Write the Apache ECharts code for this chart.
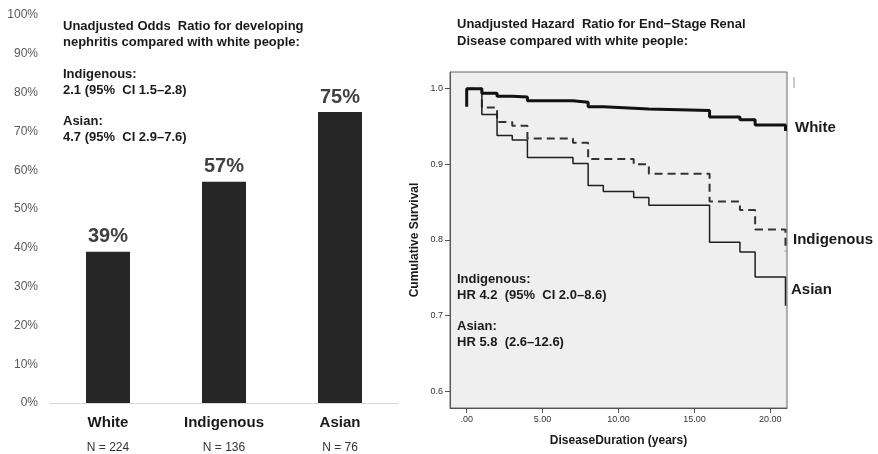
<!DOCTYPE html>
<html>
<head>
<meta charset="utf-8">
<script src="https://cdn.jsdelivr.net/npm/echarts@6/dist/echarts.min.js"></script>
<style>
  html, body { margin: 0; padding: 0; background: #fff; }
  #chart { width: 878px; height: 454px; }
</style>
</head>
<body>
<div id="chart"></div>
<script>
// left panel: nephritis rate by group
const groups = ['White', 'Indigenous', 'Asian']
const groupN = ['N = 224', 'N = 136', 'N = 76']
const nephritisPct = [39, 57, 75]

// right panel: Kaplan-Meier survival steps (years, cumulative survival)
const whiteTime = [0, 0, 1, 2, 3, 4, 7, 8, 9, 11, 12, 16, 18, 19, 21]
const whiteSurv = [0.976, 1.0, 0.994, 0.990, 0.989, 0.984, 0.982, 0.976, 0.974, 0.973, 0.971, 0.9625, 0.959, 0.952, 0.944]
const indigTime = [0, 1, 2, 3, 4, 7, 8, 11, 12, 16, 18, 19, 21]
const indigSurv = [1.0, 0.975, 0.956, 0.951, 0.934, 0.9285, 0.907, 0.900, 0.8875, 0.851, 0.8395, 0.814, 0.785]
const asianTime = [0, 1, 2, 3, 4, 7, 8, 9, 11, 12, 16, 18, 19, 21]
const asianSurv = [1.0, 0.966, 0.938, 0.932, 0.909, 0.901, 0.872, 0.864, 0.856, 0.846, 0.797, 0.784, 0.751, 0.713]
const yTicks = [0.6, 0.7, 0.8, 0.9, 1.0]
const xTicks = [0, 5, 10, 15, 20]

const pairs = (xs, ys) => xs.map((x, i) => [x, ys[i]])

const myChart = echarts.init(document.getElementById('chart'))
const font = '"Liberation Sans", Arial, sans-serif'

// annotation text blocks
const txt = (x, y, text, size, weight, color) => ({
  type: 'text',
  left: x,
  top: y,
  style: {
    text: text,
    font: (weight || 'bold') + ' ' + (size || 13) + 'px ' + font,
    fill: color || '#1a1a1a'
  }
})

const option = {
  animation: false,
  textStyle: { fontFamily: font },
  grid: [
    { left: 50, top: 15, width: 348, height: 389 },
    {
      left: 450, top: 72, width: 337, height: 336,
      show: true, backgroundColor: '#efefef', borderColor: '#666', borderWidth: 1
    }
  ],
  xAxis: [
    {
      gridIndex: 0,
      type: 'category',
      data: groups,
      axisLine: { lineStyle: { color: '#d9d9d9' } },
      axisTick: { show: false },
      axisLabel: {
        margin: 9,
        formatter: (v, i) => '{a|' + v + '}\n{b|' + groupN[i] + '}',
        rich: {
          a: { fontSize: 15, fontWeight: 'bold', color: '#1a1a1a', lineHeight: 22 },
          b: { fontSize: 12, color: '#333', lineHeight: 28 }
        }
      }
    },
    {
      gridIndex: 1,
      type: 'value',
      min: -1.1,
      max: 21.1,
      name: 'DiseaseDuration (years)',
      nameLocation: 'middle',
      nameGap: 27,
      nameTextStyle: { fontSize: 12, fontWeight: 'bold', color: '#1a1a1a' },
      axisLine: { onZero: false, lineStyle: { color: '#555' } },
      axisTick: { customValues: xTicks, length: 5, lineStyle: { color: '#555' } },
      axisLabel: {
        customValues: xTicks,
        fontSize: 9,
        color: '#333',
        margin: 7,
        formatter: v => (v === 0 ? '.00' : v.toFixed(2))
      },
      splitLine: { show: false }
    }
  ],
  yAxis: [
    {
      gridIndex: 0,
      type: 'value',
      min: 0,
      max: 100,
      interval: 10,
      axisLine: { show: false },
      axisTick: { show: false },
      axisLabel: { fontSize: 12, color: '#595959', margin: 12, formatter: v => v + '%' },
      splitLine: { show: false }
    },
    {
      gridIndex: 1,
      type: 'value',
      min: 0.578,
      max: 1.022,
      name: 'Cumulative Survival',
      nameLocation: 'middle',
      nameGap: 29,
      nameTextStyle: { fontSize: 12, fontWeight: 'bold', color: '#1a1a1a' },
      axisLine: { onZero: false, lineStyle: { color: '#555' } },
      axisTick: { customValues: yTicks, length: 5, lineStyle: { color: '#555' } },
      axisLabel: {
        customValues: yTicks,
        fontSize: 9,
        color: '#333',
        margin: 7,
        formatter: v => v.toFixed(1)
      },
      splitLine: { show: false }
    }
  ],
  series: [
    {
      type: 'bar',
      xAxisIndex: 0,
      yAxisIndex: 0,
      data: nephritisPct,
      barWidth: 44,
      itemStyle: { color: '#262626' },
      label: {
        show: true,
        position: 'top',
        fontSize: 20,
        fontWeight: 'bold',
        color: '#404040',
        formatter: p => p.value + '%'
      }
    },
    {
      name: 'Indigenous',
      type: 'line',
      xAxisIndex: 1,
      yAxisIndex: 1,
      step: 'end',
      showSymbol: false,
      data: pairs(indigTime, indigSurv),
      lineStyle: { color: '#333', width: 2, type: [8, 5] }
    },
    {
      name: 'Asian',
      type: 'line',
      xAxisIndex: 1,
      yAxisIndex: 1,
      step: 'end',
      showSymbol: false,
      data: pairs(asianTime, asianSurv),
      lineStyle: { color: '#1f1f1f', width: 1.5 }
    },
    {
      name: 'White',
      type: 'line',
      xAxisIndex: 1,
      yAxisIndex: 1,
      step: 'end',
      showSymbol: false,
      data: pairs(whiteTime, whiteSurv),
      lineStyle: { color: '#111', width: 3 }
    }
  ],
  graphic: [
    txt(63, 20, 'Unadjusted Odds  Ratio for developing'),
    txt(63, 36, 'nephritis compared with white people:'),
    txt(63, 68, 'Indigenous:'),
    txt(63, 84, '2.1 (95%  CI 1.5\u20132.8)'),
    txt(63, 115, 'Asian:'),
    txt(63, 131, '4.7 (95%  CI 2.9\u20137.6)'),
    txt(457, 18, 'Unadjusted Hazard  Ratio for End\u2212Stage Renal'),
    txt(457, 35, 'Disease compared with white people:'),
    txt(457, 273, 'Indigenous:'),
    txt(457, 289, 'HR 4.2  (95%  CI 2.0\u20138.6)'),
    txt(457, 320, 'Asian:'),
    txt(457, 336, 'HR 5.8  (2.6\u201312.6)'),
    txt(795, 120, 'White', 15),
    txt(793, 232, 'Indigenous', 15),
    txt(791, 282, 'Asian', 15),
    {
      type: 'line',
      shape: { x1: 794, y1: 77, x2: 794, y2: 88 },
      style: { stroke: '#999', lineWidth: 1 }
    }
  ]
}

myChart.setOption(option)
</script>
</body>
</html>
